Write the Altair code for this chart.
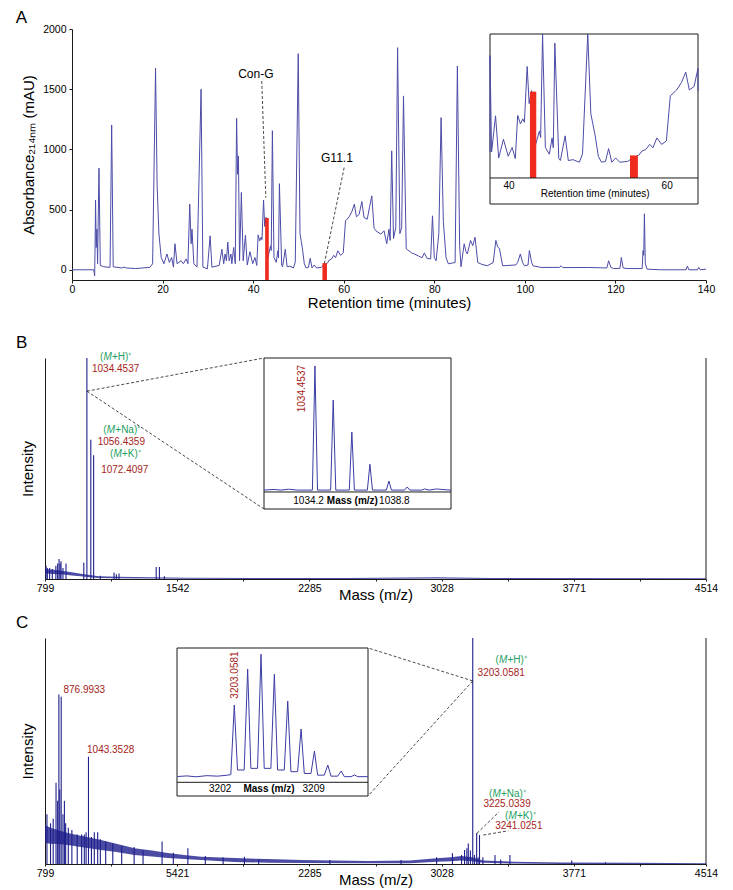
import altair as alt
import pandas as pd

FONT = "Liberation Sans"
CHROM_COLOR = "#4c4ca8"
SPEC_COLOR = "#1e1e8c"
RED = "#ee2b1d"
GREEN = "#1d9d5f"
DARKRED = "#a52421"
INK = "#1a1a1a"

# ---------------- Panel A: chromatogram (minutes, mAU) ----------------
a_time_1 = [0, 4.8, 5.0, 5.1, 5.2, 5.35, 5.5, 5.65, 5.96, 6.25, 7.0, 8.4, 8.76, 9.1, 11.0, 11.5, 12.0, 14.0, 17.2, 17.8, 18.45, 18.8, 19.2, 19.7, 20.3]
a_mau_1 = [0, 0, -50, 200, 578, 185, 337, 50, 844, 36, 25, 20, 1203, 25, 15, 22, 15, 10, 20, 50, 1674, 700, 296, 102, 50]
a_time_2 = [20.97, 21.5, 22.0, 22.4, 22.74, 23.2, 24.1, 24.6, 25.2, 25.6, 26.0, 26.3, 26.5, 26.9, 27.6, 28.5, 28.9, 29.9]
a_mau_2 = [131, 61, 102, 22, 216, 50, 75, 50, 90, 50, 545, 216, 337, 50, 22, 1500, 22, 8]
a_time_3 = [30.5, 30.9, 32.5, 33.1, 33.5, 33.8, 34.1, 34.4, 34.7, 35.1, 35.3, 35.7, 36.05, 36.35, 36.55, 36.75, 37.0, 37.4, 37.8, 38.3, 38.7, 39.3, 39.9]
a_mau_3 = [282, 22, 36, 171, 50, 131, 75, 230, 75, 131, 50, 185, 50, 1258, 794, 946, 75, 642, 75, 288, 40, 150, 50]
a_time_4 = [40.4, 40.8, 41.1, 41.45, 41.75, 41.95, 42.3, 42.55, 42.85, 43.2, 43.85, 44.0, 44.25, 44.6, 45.1, 45.45, 45.6, 45.8, 46.3, 46.5, 47.1, 47.5, 48.1, 48.9, 49.3]
a_mau_4 = [102, 36, 290, 240, 270, 250, 578, 360, 436, 90, 199, 160, 1155, 102, 62, 158, 100, 715, 36, 25, 170, 25, 30, 15, 65]
a_time_5 = [49.96, 50.35, 50.6, 50.9, 51.3, 51.7, 52.2, 52.6, 53.0, 53.5, 54.0, 55.0, 55.8, 56.4, 56.8, 57.3, 57.8, 58.2, 58.7, 59.3,
            59.9, 60.4, 61.2, 61.8, 62.35, 62.8, 63.4, 64.0, 64.5, 65.2, 65.7, 66.2, 66.7, 67.1, 68.2, 68.9, 69.5, 70.0, 70.25, 70.6,
            71.0, 71.5, 71.9, 72.4, 72.8, 73.2, 73.8]
a_mau_5 = [1795, 300, 241, 171, 50, 15, 20, 95, 15, 40, 15, 20, 45, 55, 80, 90, 120, 100, 158, 120,
           140, 406, 440, 483, 545, 440, 460, 567, 434, 420, 520, 614, 346, 324, 296, 324, 216, 337, 244, 988,
           260, 350, 1845, 300, 350, 1444, 174]
a_time_6 = [75.0, 75.6, 76.5, 77.3, 77.8, 78.4, 79.2, 79.6, 80.0, 80.4, 81.0, 81.5, 82.0, 82.6, 83.1, 84.6, 85.1, 85.6, 85.9, 86.6,
            87.0, 87.3, 88.0, 88.5, 89.0, 89.6, 90.5, 91.7, 93.0, 93.6, 94.0, 94.4, 95.1, 98.0, 98.4, 99.0, 99.5, 99.9, 100.7, 101.0,
            101.5, 101.8, 103.6, 107.6, 108.0, 108.4, 113.9, 118.1, 118.5, 119.0, 119.6, 121.0, 121.3, 121.7, 122.6, 125.9, 126.1, 126.25, 126.4, 126.6,
            127.0, 129.9, 135.6, 135.9, 136.2, 138.1, 138.4, 138.7, 140.0]
a_mau_6 = [140, 131, 115, 100, 140, 95, 90, 448, 100, 75, 300, 1264, 400, 100, 50, 60, 1693, 200, 25, 216,
           150, 131, 244, 200, 270, 60, 45, 33, 60, 244, 190, 174, 33, 40, 60, 131, 60, 33, 40, 160,
           60, 33, 19, 20, 33, 18, 19, 15, 75, 20, 10, 12, 102, 15, 10, 10, 160, 120, 465, 50,
           5, 0, 0, 31, 0, 0, 20, 0, 5]
chrom_time = a_time_1 + a_time_2 + a_time_3 + a_time_4 + a_time_5 + a_time_6
chrom_mau = a_mau_1 + a_mau_2 + a_mau_3 + a_mau_4 + a_mau_5 + a_mau_6
assert len(chrom_time) == len(chrom_mau)

a_xticks = [0, 20, 40, 60, 80, 100, 120, 140]
a_yticks = [0, 500, 1000, 1500, 2000]
hl_name = ["Con-G", "G11.1"]
hl_start = [42.65, 55.3]
hl_end = [43.45, 56.3]
hl_top = [430, 55]
a_label_text = ["Con-G", "G11.1"]
a_label_t = [40.6, 58.5]
a_label_v = [1627, 932]
a_lead_t0 = [41.9, 60.1]
a_lead_v0 = [1568, 849]
a_lead_t1 = [42.8, 55.7]
a_lead_v1 = [600, 47]
a_inset_ticks = [40, 60]

# ---------------- Panel B: MS spectrum of Con-G ----------------
b_band_mz = [799, 850, 900, 950, 1000, 1050, 1100, 1200, 1400, 1600, 2000, 2500, 3000, 3300, 4514]
b_band_hi = [4.5, 4.2, 3.6, 3.0, 2.4, 1.8, 1.3, 1.0, 0.8, 0.6, 0.5, 0.5, 0.8, 0.5, 0.3]
b_band_lo = [2.5, 2.3, 2.0, 1.6, 1.2, 0.8, 0.5, 0.3, 0.2, 0.1, 0.0, 0.0, 0.2, 0.0, 0.0]
b_peak_mz = [805, 812, 825, 840, 860, 870, 878, 884, 889, 900, 917, 1017, 1034.45, 1056.44, 1072.41, 1110, 1187, 1200, 1215, 1424, 1442, 1470]
b_peak_int = [6, 5, 5, 4.5, 6, 7, 9, 7, 8, 5, 7, 7.4, 100, 63, 56, 1.5, 2.9, 2.2, 2.5, 5.4, 5.4, 1.2]
b_zoom_mz = [1031.66, 1032.2, 1032.6, 1033.0, 1033.5, 1034.0, 1034.31, 1034.45, 1034.59, 1035.31, 1035.45, 1035.59,
             1036.33, 1036.47, 1036.61, 1037.32, 1037.46, 1037.6, 1038.36, 1038.5, 1038.64, 1039.36, 1039.5, 1039.64,
             1040.3, 1040.45, 1040.7, 1041.1, 1041.4, 1041.9]
b_zoom_int = [1.5, 2.0, 1.5, 2.2, 1.5, 1.5, 1.5, 100, 1.5, 1.5, 73, 1.5,
              1.5, 47.6, 1.5, 1.5, 22, 1.5, 1.5, 8.7, 1.5, 1.5, 4.0, 1.5,
              1.5, 2.4, 1.5, 2.4, 2.0, 1.5]

# ---------------- Panel C: MS spectrum of G11.1 ----------------
c_band_mz = [799, 830, 870, 927, 1000, 1114, 1200, 1302, 1400, 1489, 1580, 1677, 1864, 2050, 2240, 2617, 2850, 3000, 3080, 3140, 3200, 3260, 3438, 3703, 4100, 4514]
c_band_hi = [17.3, 16, 15, 13.7, 12.5, 10.6, 9, 7, 6, 4.9, 4, 3.2, 2.6, 2.2, 1.8, 1.3, 1.5, 2.5, 3, 3.5, 3, 1.5, 1.0, 0.7, 0.5, 0.3]
c_band_lo = [9.3, 9, 8.8, 8.4, 7.5, 6.2, 5.3, 4, 3.3, 2.7, 2.2, 1.8, 0.9, 0.6, 0.4, 0.3, 0.3, 1, 1.2, 1.5, 1.2, 0.5, 0.2, 0, 0, 0]
c_peak_mz = [810, 830, 845, 861, 870, 877, 882, 890, 900, 908, 915, 930, 950, 980, 1005, 1020, 1030, 1043.35, 1060, 1076,
             1095, 1110, 1140, 1180, 1230, 1300, 1350, 1457, 1520, 1602, 1700, 1800, 1920, 2000, 2400, 2800, 3000, 3089, 3140, 3157,
             3170, 3178, 3190, 3203.06, 3213, 3225.03, 3233, 3241.03, 3260, 3328, 3360, 3412, 3759, 3949]
c_peak_int = [22, 18, 20, 36, 28, 75, 33, 74, 22, 28, 18, 16, 15, 13, 13, 13, 14, 47.5, 12, 14,
              14, 11, 10, 9, 8, 7.5, 6, 10, 5, 7, 3.5, 3, 3.2, 2.2, 1.8, 1.8, 3, 4.8, 4, 6.2,
              7, 9.1, 6, 100, 4, 13.7, 3, 12.8, 3, 4, 2, 4, 1.5, 0.8]
c_zoom_mz = [3198.8, 3199.5, 3200.2, 3201.0, 3201.8, 3202.5, 3202.8, 3203.06, 3203.3, 3203.8, 3204.06, 3204.3, 3204.8,
             3205.06, 3205.3, 3205.8, 3206.06, 3206.3, 3206.8, 3207.06, 3207.3, 3207.8, 3208.06, 3208.3, 3208.8, 3209.06,
             3209.3, 3209.8, 3210.06, 3210.3, 3210.8, 3211.06, 3211.3, 3211.8, 3212.06, 3212.3, 3213.07]
c_zoom_int = [4.5, 5.0, 4.3, 5.2, 4.8, 5.5, 6.0, 60.4, 9.6, 9.6, 88.5, 10.9, 10.9,
              100, 10.9, 10.9, 84.4, 9.6, 9.6, 63.5, 8.3, 8.3, 41.6, 6.9, 6.9, 24.4,
              5.6, 5.6, 13.5, 4.8, 4.8, 8.8, 4.4, 4.4, 5.7, 4.4, 4.4]

mass_ticks = [799, 1170.5, 1542, 1913.5, 2285, 2656.5, 3028, 3399.5, 3771, 4142.5, 4514]
b_tick_text = ["799", "", "1542", "", "2285", "", "3028", "", "3771", "", "4514"]
c_tick_text = ["799", "", "5421", "", "2285", "", "3028", "", "3771", "", "4514"]

# ---------------- layout constants (scale domains / pixel ranges) ----------------
W = 661
A_H, B_H, C_H = 251, 221, 226
A_XD, A_XR, A_YD = [0, 140], [27, 661], [-85, 2000]
A_IXD, A_IXR, A_IYD, A_IYR, A_IAX = [37.6, 63.9], [445, 653], [-230.6, 769], [175, 5], -77.6
M_XD, M_YD = [799, 4514], [0, 100]
B_IXD, B_IXR, B_IYD, B_IYR = [1031.66, 1041.9], [219, 406], [-13.5, 106.3], [151, 0]
C_IXD, C_IXR, C_IYD, C_IYR = [3198.77, 3213.07], [132, 323], [-10.7, 104.9], [158, 10]


def sc(domain, rng=None, clamp=False):
    kw = dict(domain=domain, nice=False, zero=False)
    if rng is not None:
        kw["range"] = rng
    if clamp:
        kw["clamp"] = True
    return alt.Scale(**kw)


def X(f, s, axis=None):
    return alt.X(f"{f}:Q", scale=s, axis=axis)


def Y(f, s, axis=None):
    return alt.Y(f"{f}:Q", scale=s, axis=axis)


def label_expr(vals, texts):
    parts = [f"datum.value == {v} ? '{t}'" for v, t in zip(vals, texts) if t]
    return " : ".join(parts) + " : ''"


def letter(txt, x, y, xs, ys):
    return alt.Chart(pd.DataFrame({"x": [x], "y": [y], "t": [txt]})).mark_text(
        fontSize=17, align="left", baseline="alphabetic", color="black"
    ).encode(x=X("x", xs), y=Y("y", ys), text="t:N")


def leaders(x0, y0, x1, y1, xs, ys):
    return alt.Chart(pd.DataFrame({"x0": x0, "y0": y0, "x1": x1, "y1": y1})).mark_rule(
        color=INK, strokeDash=[3, 2], strokeWidth=0.8
    ).encode(x=X("x0", xs), y=Y("y0", ys), x2="x1", y2="y1")


def box(xd, yd, xs, ys):
    return alt.Chart(pd.DataFrame({"x0": [xd[0]], "x1": [xd[1]], "y0": [yd[0]], "y1": [yd[1]]})).mark_rect(
        fill="white", stroke=INK, strokeWidth=1
    ).encode(x=X("x0", xs), x2="x1", y=Y("y0", ys), y2="y1")


def hrule(xd, yv, xs, ys):
    return alt.Chart(pd.DataFrame({"x0": [xd[0]], "x1": [xd[1]], "y": [yv]})).mark_rule(
        color=INK, strokeWidth=1
    ).encode(x=X("x0", xs), x2="x1", y=Y("y", ys))


def texts(xv, yv, tv, xs, ys, **mk):
    return alt.Chart(pd.DataFrame({"x": xv, "y": yv, "t": tv})).mark_text(**mk).encode(
        x=X("x", xs), y=Y("y", ys), text="t:N")


def ion_labels(mz, v, pre, mid, post, xs, ys):
    df = pd.DataFrame({"x": mz, "y": v, "pre": pre, "mid": mid, "post": post})
    base = alt.Chart(df)
    common = dict(fontSize=10, color=GREEN, baseline="middle")
    return [
        base.mark_text(align="right", dx=-4.3, **common).encode(x=X("x", xs), y=Y("y", ys), text="pre:N"),
        base.mark_text(align="center", fontStyle="italic", **common).encode(x=X("x", xs), y=Y("y", ys), text="mid:N"),
        base.mark_text(align="left", dx=4.3, **common).encode(x=X("x", xs), y=Y("y", ys), text="post:N"),
    ]


# ======================= Panel A =======================
xsA, ysA = sc(A_XD, A_XR), sc(A_YD)
axA_x = alt.Axis(title="Retention time (minutes)", values=a_xticks, format="d", tickSize=3, labelPadding=1,
                 titlePadding=0.5, labelFontSize=10.5, titleFontSize=15, labelFlush=False, grid=False)
axA_y = alt.Axis(title="Absorbance₂₁₄ₙₘ (mAU)", values=a_yticks, format="d", tickSize=3, labelPadding=3,
                 titlePadding=6, offset=-27, labelFontSize=10.5, titleFontSize=15, labelFlush=False, grid=False)
df_chrom = pd.DataFrame({"t": chrom_time, "v": chrom_mau})
df_hl = pd.DataFrame({"name": hl_name, "start": hl_start, "end": hl_end, "top": hl_top,
                      "floor": [A_YD[0]] * 2, "ifloor": [A_IAX] * 2})

a_main = [
    alt.Chart(df_chrom).mark_line(color=CHROM_COLOR, strokeWidth=1).encode(x=X("t", xsA, axA_x), y=Y("v", ysA, axA_y)),
    alt.Chart(df_hl).mark_rect(color=RED).encode(x=X("start", xsA), x2="end", y=Y("top", ysA), y2="floor"),
    leaders(a_lead_t0, a_lead_v0, a_lead_t1, a_lead_v1, xsA, ysA),
    texts(a_label_t, a_label_v, a_label_text, xsA, ysA, fontSize=12, color="black", baseline="middle"),
    letter("A", -12.4, 2050, xsA, ysA),
]
xiA, yiA = sc(A_IXD, A_IXR, True), sc(A_IYD, A_IYR, True)
a_inset = [
    box(A_IXD, A_IYD, xiA, yiA),
    alt.Chart(df_chrom).transform_filter(alt.FieldRangePredicate(field="t", range=[37.0, 64.6]))
    .mark_line(color=CHROM_COLOR, strokeWidth=1).encode(x=X("t", xiA), y=Y("v", yiA)),
    alt.Chart(df_hl).mark_rect(color=RED).encode(x=X("start", xiA), x2="end", y=Y("top", yiA), y2="ifloor"),
    hrule(A_IXD, A_IAX, xiA, yiA),
    texts(a_inset_ticks, [-124.7, -124.7], ["40", "60"], xiA, yiA, fontSize=10, color="black", baseline="middle"),
    texts([50.9], [-171.8], ["Retention time (minutes)"], xiA, yiA, fontSize=10, color="black", baseline="middle"),
]
panelA = alt.layer(*a_main, *a_inset).resolve_scale(x="independent", y="independent").properties(width=W, height=A_H)


# ======================= Panels B / C (shared builder) =======================
def ms_panel(tag, H, tick_text, band, peaks, zoom, ixd, ixr, iyd, iyr, lead, reds, ions, rot, itick, ititle):
    xs, ys = sc(M_XD), sc(M_YD)
    axx = alt.Axis(title="Mass (m/z)", values=mass_ticks, labelExpr=label_expr(mass_ticks, tick_text), tickSize=2,
                   labelPadding=2, titlePadding=-6, labelFontSize=10.5, titleFontSize=15, labelFlush=False,
                   labelOverlap=False, grid=False)
    axy = alt.Axis(title="Intensity", labels=False, ticks=False, grid=False, values=[], titlePadding=10, titleFontSize=15)
    bmz, bhi, blo = band
    pmz, pint = peaks
    main = [
        alt.Chart(pd.DataFrame({"mz": bmz, "hi": bhi, "lo": blo})).mark_area(color=SPEC_COLOR, opacity=0.8)
        .encode(x=X("mz", xs, axx), y=Y("hi", ys, axy), y2="lo"),
        alt.Chart(pd.DataFrame({"mz": pmz, "h": pint, "zero": [0] * len(pmz)})).mark_rule(color=SPEC_COLOR, strokeWidth=1.1)
        .encode(x=X("mz", xs), y=Y("h", ys), y2="zero"),
        alt.Chart(pd.DataFrame({"mz": [M_XD[1]], "y0": [M_YD[0]], "y1": [M_YD[1]]})).mark_rule(color=INK, strokeWidth=1)
        .encode(x=X("mz", xs), y=Y("y0", ys), y2="y1"),
        leaders(*lead, xs, ys),
        texts(reds[0], reds[1], reds[2], xs, ys, fontSize=10, color=DARKRED, baseline="middle"),
        *ion_labels(*ions, xs, ys),
        letter(tag, 636, 104.5, xs, ys),
    ]
    xi, yi = sc(ixd, ixr, True), sc(iyd, iyr, True)
    zmz, zint = zoom
    inset = [
        box(ixd, iyd, xi, yi),
        alt.Chart(pd.DataFrame({"mz": zmz, "h": zint})).mark_line(color="#3c3ca4", strokeWidth=1)
        .encode(x=X("mz", xi), y=Y("h", yi)),
        hrule(ixd, 0, xi, yi),
        texts([rot[0]], [rot[1]], [rot[2]], xi, yi, fontSize=10, color=DARKRED, angle=270, baseline="middle"),
        texts(itick[0], itick[1], itick[2], xi, yi, fontSize=10, color="black", baseline="middle"),
        texts([ititle[0]], [ititle[1]], ["Mass (m/z)"], xi, yi, fontSize=10, fontWeight="bold", color="black", baseline="middle"),
    ]
    return alt.layer(*main, *inset).resolve_scale(x="independent", y="independent").properties(width=W, height=H)


panelB = ms_panel(
    "B", B_H, b_tick_text,
    (b_band_mz, b_band_hi, b_band_lo), (b_peak_mz, b_peak_int), (b_zoom_mz, b_zoom_int),
    B_IXD, B_IXR, B_IYD, B_IYR,
    ([1034.45, 1034.45], [85, 85], [2029.8, 2029.8], [100, 31.7]),
    ([1196, 1228, 1247.5], [95, 62, 49.3], ["1034.4537", "1056.4359", "1072.4097"]),
    ([1151, 1170, 1207.6], [100.6, 67.3, 56.4], ["(", "(", "("], ["M", "M", "M"], ["+H)⁺", "+Na)⁺", "+K)⁺"]),
    (1033.74, 82, "1034.4537"),
    ([1034.1, 1038.8], [-7, -7], ["1034.2", "1038.8"]),
    (1036.5, -7.5),
)

panelC = ms_panel(
    "C", C_H, c_tick_text,
    (c_band_mz, c_band_hi, c_band_lo), (c_peak_mz, c_peak_int), (c_zoom_mz, c_zoom_int),
    C_IXD, C_IXR, C_IYD, C_IYR,
    ([3203.06, 3203.06, 3227, 3262], [81, 81, 13.6, 12.8], [2614.4, 2614.4, 3350, 3403], [95.6, 30.1, 23, 14.7]),
    ([1020, 1168, 3363, 3396, 3462], [77, 50.3, 84.6, 26.5, 16.8],
     ["876.9933", "1043.3528", "3203.0581", "3225.0339", "3241.0251"]),
    ([3374, 3337, 3427], [90.3, 31, 21.2], ["(", "(", "("], ["M", "M", "M"], ["+H)⁺", "+Na)⁺", "+K)⁺"]),
    (3203.1, 83.8, "3203.0581"),
    ([3202, 3209], [-5.2, -5.2], ["3202", "3209"]),
    (3205.66, -5.2),
)

chart = alt.vconcat(
    panelA, alt.vconcat(panelB, panelC, spacing=10), spacing=24
).properties(
    padding={"left": 7, "top": 0, "right": 0, "bottom": 0}
).configure_view(stroke=None).configure_axis(
    labelFont=FONT, titleFont=FONT, titleFontWeight="normal", labelColor="black", titleColor="black",
    domainColor=INK, tickColor=INK, domainWidth=1, tickWidth=1
).configure_text(font=FONT)

chart.save("out.html", embed_options={"renderer": "svg", "actions": False})
